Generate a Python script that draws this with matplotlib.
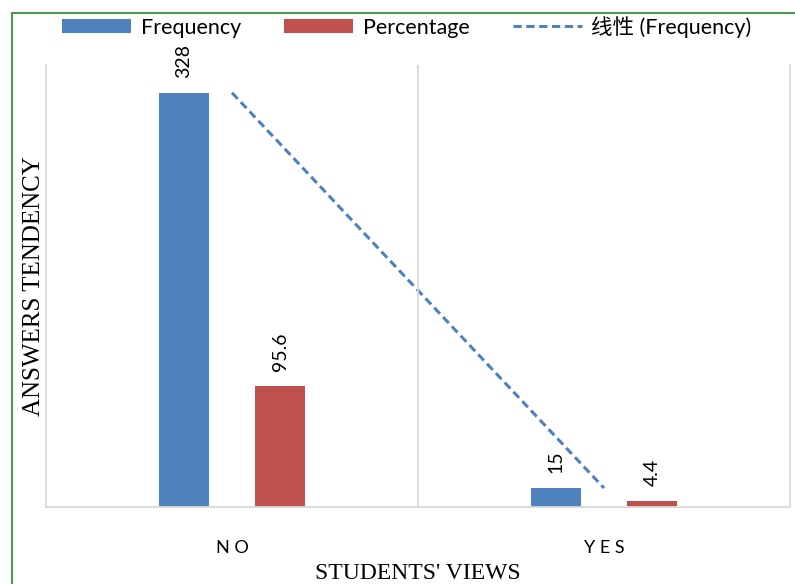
import matplotlib.pyplot as plt
from matplotlib.lines import Line2D

# Données
categories = ["N O", "Y E S"]
frequency = [328, 15]
percentage = [95.6, 4.4]

blue = "#4F81BD"
red = "#C0504D"
grid_gray = "#D9D9D9"
sans = ["Lato", "Noto Sans CJK SC", "DejaVu Sans"]

fig = plt.figure(figsize=(7.95, 5.84), dpi=100)
ax = fig.add_axes([46 / 795, 1 - 507 / 584, (790 - 46) / 795, (507 - 65) / 584])

x = list(range(len(categories)))
w = 0.135
off = 0.13
b1 = ax.bar([i - off for i in x], frequency, w, color=blue, label="Frequency")
b2 = ax.bar([i + off for i in x], percentage, w, color=red, label="Percentage")

# courbe de tendance linéaire (2 points -> passe par les valeurs)
n = len(frequency)
xm = sum(x) / n
ym = sum(frequency) / n
pente = sum((xi - xm) * (yi - ym) for xi, yi in zip(x, frequency)) / sum((xi - xm) ** 2 for xi in x)
orig = ym - pente * xm
tend, = ax.plot(x, [orig + pente * xi for xi in x], ls=(0, (2.7, 1.5)), lw=2.2, color=blue,
                label="线性 (Frequency)")

for bars, vals in ((b1, frequency), (b2, percentage)):
    for r, v in zip(bars, vals):
        ax.annotate(f"{v:g}", (r.get_x() + r.get_width() / 2, v), xytext=(0, 11),
                    textcoords="offset points", rotation=90, ha="center", va="bottom",
                    fontsize=14, family=sans)

ax.set_xlim(-0.5, 1.5)
ax.set_ylim(0, 350)
ax.set_yticks([])
ax.set_xticks(x)
ax.set_xticklabels(categories, fontsize=13, family=sans)
ax.tick_params(axis="x", length=0, pad=24)
ax.axvline(0.5, color=grid_gray, lw=1.3)
ax.spines["top"].set_visible(False)
for s in ("left", "right", "bottom"):
    ax.spines[s].set_color(grid_gray)
    ax.spines[s].set_linewidth(1.3)

ax.set_xlabel("STUDENTS' VIEWS", family="Liberation Serif", fontsize=17, labelpad=5)
ax.set_ylabel("ANSWERS TENDENCY", family="Liberation Serif", fontsize=18, labelpad=1)

fig.legend(handles=[b1, b2, tend], loc="upper center",
           bbox_to_anchor=(407 / 795, 1 - 16 / 584), ncol=3, frameon=False,
           prop={"family": sans, "size": 15.5}, handlelength=3.2, handleheight=0.65,
           handletextpad=0.45, columnspacing=2.0, borderaxespad=0, borderpad=0)

# cadre vert
g = "#4E9A4E"
fig.add_artist(Line2D([11.5 / 795, 11.5 / 795], [0, 1 - 12.5 / 584], color=g, lw=1.5,
                      transform=fig.transFigure))
fig.add_artist(Line2D([11.5 / 795, 1], [1 - 12.5 / 584, 1 - 12.5 / 584], color=g, lw=1.5,
                      transform=fig.transFigure))

fig.savefig("out.png", dpi=100)
